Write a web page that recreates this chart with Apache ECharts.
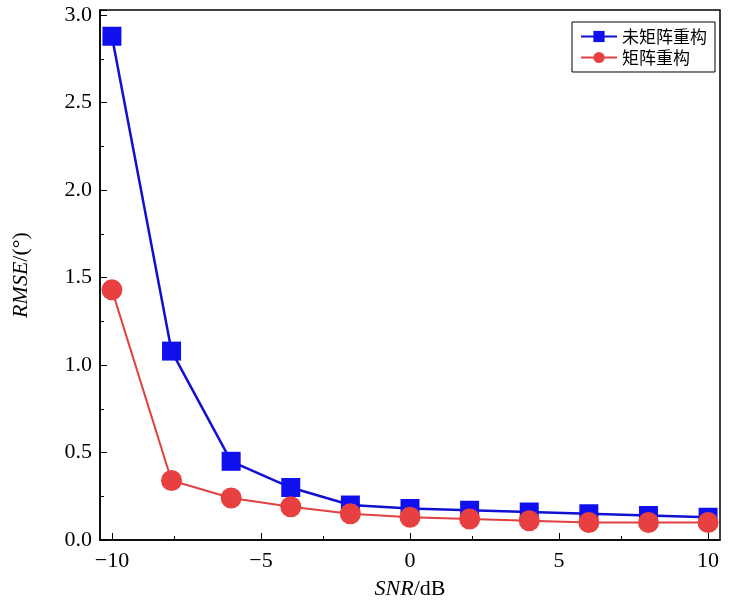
<!DOCTYPE html>
<html><head><meta charset="utf-8">
<script src="https://cdn.jsdelivr.net/npm/echarts@6/dist/echarts.min.js"></script>
<style>html,body{margin:0;background:#fff}#c{width:745px;height:611px}</style>
</head><body><div id="c"></div>
<script>
var snr = [-10, -8, -6, -4, -2, 0, 2, 4, 6, 8, 10];
var noRecon = [2.88, 1.08, 0.45, 0.30, 0.20, 0.18, 0.17, 0.16, 0.15, 0.14, 0.13];
var recon = [1.43, 0.34, 0.24, 0.19, 0.15, 0.13, 0.12, 0.11, 0.10, 0.10, 0.10];

var chart = echarts.init(document.getElementById('c'));
var font = 'Liberation Serif, Times New Roman, serif';
function pairs(v) { return snr.map((x, i) => [x, v[i]]) }
var axisCommon = {
    axisLine: {onZero: false, lineStyle: {color: '#000', width: 1.5}},
    axisTick: {inside: true, length: 7, lineStyle: {color: '#000'}},
    minorTick: {show: true, splitNumber: 2, length: 4, lineStyle: {color: '#000'}},
    splitLine: {show: false},
    axisLabel: {color: '#000', fontSize: 22, fontFamily: font}
};
chart.setOption({
    animation: false,
    grid: {left: 100, right: 25, top: 10, bottom: 71, show: true, borderColor: '#000', borderWidth: 1.5},
    legend: {
        right: 30, top: 22, orient: 'vertical', itemGap: 4, itemWidth: 36,
        backgroundColor: '#fff', borderColor: '#000', borderWidth: 1, padding: [6, 8],
        textStyle: {fontSize: 17, fontFamily: 'Noto Sans CJK SC', color: '#000'},
        data: ['未矩阵重构', '矩阵重构']
    },
    xAxis: Object.assign({
        type: 'value', min: -10.4, max: 10.4, interval: 5,
        name: '{i|SNR}/dB', nameLocation: 'middle', nameGap: 38,
        nameTextStyle: {fontSize: 22, fontFamily: font, color: '#000', rich: {i: {fontStyle: 'italic', fontSize: 22, fontFamily: font}}}
    }, axisCommon, {axisLabel: {color: '#000', fontSize: 22, fontFamily: font, margin: 10,
        customValues: [-10, -5, 0, 5, 10], formatter: v => String(v).replace('-', '\u2212')},
        axisTick: {inside: true, length: 7, lineStyle: {color: '#000'}, customValues: [-10, -5, 0, 5, 10]}}),
    yAxis: Object.assign({
        type: 'value', min: 0, max: 3.03, interval: 0.5,
        name: '{i|RMSE}/(°)', nameLocation: 'middle', nameGap: 68,
        nameTextStyle: {fontSize: 22, fontFamily: font, color: '#000', rich: {i: {fontStyle: 'italic', fontSize: 22, fontFamily: font}}}
    }, axisCommon, {axisLabel: {color: '#000', fontSize: 22, fontFamily: font, formatter: v => v.toFixed(1)}}),
    series: [
        {name: '未矩阵重构', type: 'line', data: pairs(noRecon), symbol: 'rect', symbolSize: 19,
            itemStyle: {color: '#1010ee'}, lineStyle: {color: '#1010d0', width: 2.5}},
        {name: '矩阵重构', type: 'line', data: pairs(recon), symbol: 'circle', symbolSize: 21,
            itemStyle: {color: '#e84040'}, lineStyle: {color: '#e04040', width: 2}}
    ]
});
</script></body></html>
